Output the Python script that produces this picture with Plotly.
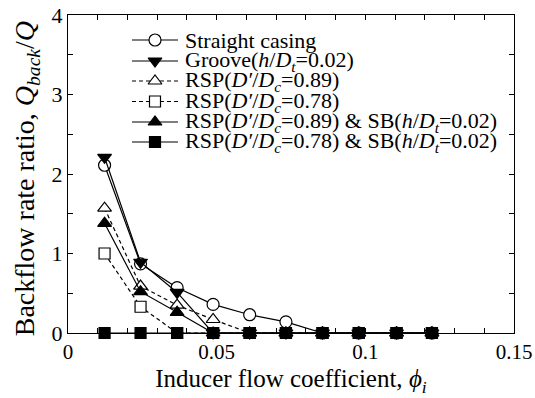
import plotly.graph_objects as go

phi = [0.0123, 0.0244, 0.0367, 0.0488, 0.0611, 0.0733, 0.0856, 0.0978, 0.1105, 0.1224]

straight = [2.11, 0.87, 0.57, 0.36, 0.23, 0.14, 0, 0, 0, 0]
groove = [2.21, 0.89, 0.51, 0, 0, 0, 0, 0, 0, 0]
rsp89 = [1.57, 0.59, 0.35, 0.17, 0, 0, 0, 0, 0, 0]
rsp78 = [1.00, 0.33, 0, 0, 0, 0, 0, 0, 0, 0]
rsp89_sb = [1.38, 0.52, 0.26, 0, 0, 0, 0, 0, 0, 0]
rsp78_sb = [0, 0, 0, 0, 0, 0, 0, 0, 0, 0]

names = [
    "Straight casing",
    "Groove(<i>h</i>/<i>D<sub>t</sub></i>=0.02)",
    "RSP(<i>D′</i>/<i>D<sub>c</sub></i>=0.89)",
    "RSP(<i>D′</i>/<i>D<sub>c</sub></i>=0.78)",
    "RSP(<i>D′</i>/<i>D<sub>c</sub></i>=0.89) &amp; SB(<i>h</i>/<i>D<sub>t</sub></i>=0.02)",
    "RSP(<i>D′</i>/<i>D<sub>c</sub></i>=0.78) &amp; SB(<i>h</i>/<i>D<sub>t</sub></i>=0.02)",
]
series = [straight, groove, rsp89, rsp78, rsp89_sb, rsp78_sb]
symbols = ["circle", "triangle-down", "triangle-up", "square", "triangle-up", "square"]
fills = ["white", "black", "white", "white", "black", "black"]
dashes = ["solid", "solid", "4px,3px", "4px,3px", "solid", "solid"]
sizes = [12, 12, 12, 11, 12, 11]

font = "Liberation Serif"

fig = go.Figure()
for n, s, sym, fc, d, sz in zip(names, series, symbols, fills, dashes, sizes):
    fig.add_trace(go.Scatter(
        x=phi, y=s, name=n, mode="lines+markers", showlegend=False,
        line=dict(color="black", width=1.2, dash=d),
        marker=dict(symbol=sym, size=sz, color=fc, line=dict(color="black", width=1.2)),
        cliponaxis=False,
    ))

# mirror axes (top / right) carrying the minor ticks
fig.add_trace(go.Scatter(x=[None], y=[None], xaxis="x2", yaxis="y2", showlegend=False, hoverinfo="skip"))

# hand-built legend on a pixel-like overlay axis pair
LEG_ROWS = [40, 61, 81, 101.5, 122, 142]
LEG_X0, LEG_XM, LEG_X1, LEG_TX = 132, 155, 178, 183
annotations = []
for n, sym, fc, d, sz, ry in zip(names, symbols, fills, dashes, sizes, LEG_ROWS):
    fig.add_trace(go.Scatter(
        x=[LEG_X0, LEG_X1], y=[ry, ry], mode="lines", xaxis="x3", yaxis="y3", showlegend=False,
        line=dict(color="black", width=1.2, dash=d), hoverinfo="skip", cliponaxis=False,
    ))
    fig.add_trace(go.Scatter(
        x=[LEG_XM], y=[ry], mode="markers", xaxis="x3", yaxis="y3", showlegend=False,
        marker=dict(symbol=sym, size=sz, color=fc, line=dict(color="black", width=1.2)),
        hoverinfo="skip", cliponaxis=False,
    ))
    annotations.append(dict(
        x=LEG_TX, y=ry, xref="x3", yref="y3", text=n, showarrow=False,
        xanchor="left", yanchor="middle", font=dict(family=font, size=22, color="black"),
    ))

# y-axis title as an annotation for exact placement
annotations.append(dict(
    x=-0.093, y=0.485, xref="paper", yref="paper", textangle=-90,
    text="Backflow rate ratio, <i>Q<sub>back</sub></i>/<i>Q</i>", showarrow=False,
    xanchor="center", yanchor="middle", font=dict(family=font, size=28, color="black"),
))

tick_common = dict(ticks="inside", ticklen=5, tickwidth=1, tickcolor="black",
                   showline=True, linecolor="black", linewidth=1.2,
                   showgrid=False, zeroline=False, automargin=False)

fig.update_layout(
    width=535, height=398,
    margin=dict(l=68, r=21, t=15, b=65),
    paper_bgcolor="white", plot_bgcolor="white",
    font=dict(family=font, size=20, color="black"),
    showlegend=False,
    annotations=annotations,
    xaxis=dict(
        range=[0, 0.15], tickvals=[0, 0.05, 0.1, 0.15], ticktext=["0", "0.05", "0.1", "0.15"],
        minor=dict(dtick=0.01, ticks="inside", ticklen=5, tickcolor="black", tickwidth=1),
        title=dict(text="Inducer flow coefficient, <i>ϕ<sub>i</sub></i>", font=dict(size=25), standoff=6),
        tickfont=dict(size=21), **tick_common,
    ),
    yaxis=dict(
        range=[0, 4], tickvals=[0, 1, 2, 3, 4],
        minor=dict(dtick=0.5, ticks="inside", ticklen=5, tickcolor="black", tickwidth=1),
        tickfont=dict(size=22), **tick_common,
    ),
    xaxis2=dict(
        range=[0, 0.15], overlaying="x", side="top", anchor="y2", tickvals=[0, 0.05, 0.1, 0.15],
        showticklabels=False,
        minor=dict(dtick=0.01, ticks="inside", ticklen=5, tickcolor="black", tickwidth=1),
        **tick_common,
    ),
    yaxis2=dict(
        range=[0, 4], overlaying="y", side="right", anchor="x2", tickvals=[0, 1, 2, 3, 4],
        showticklabels=False,
        minor=dict(dtick=0.5, ticks="inside", ticklen=5, tickcolor="black", tickwidth=1),
        **tick_common,
    ),
    xaxis3=dict(range=[68, 514], overlaying="x", visible=False, anchor="y3", fixedrange=True),
    yaxis3=dict(range=[333, 15], overlaying="y", visible=False, anchor="x3", fixedrange=True),
)

fig.write_html("out.html")
